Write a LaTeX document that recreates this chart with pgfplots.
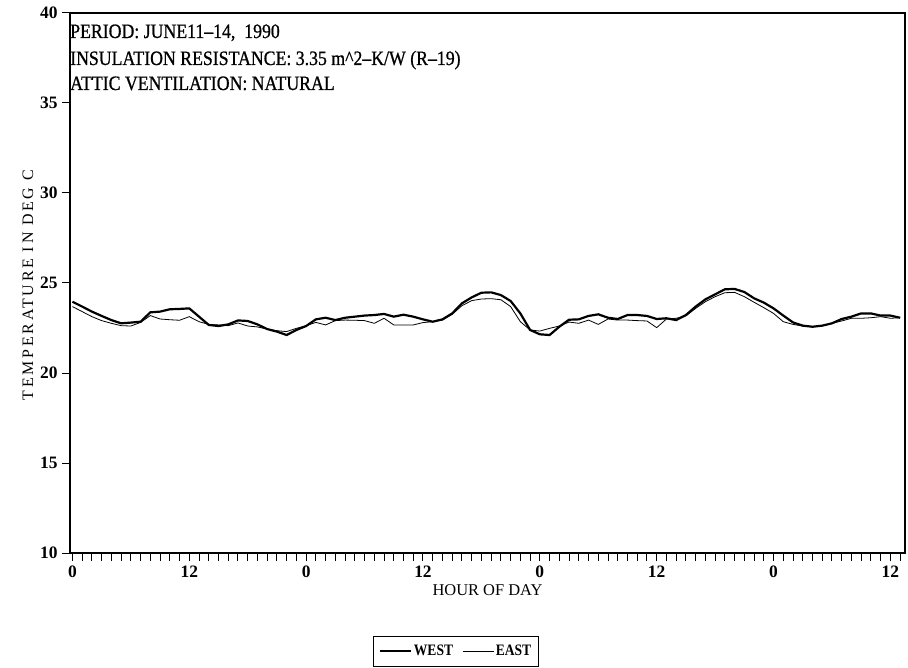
\documentclass[border=0pt]{standalone}
\usepackage{fontspec}
\setmainfont{Liberation Serif}
\newfontfamily\condserif[FakeStretch=0.87,FakeBold=0.8]{Liberation Serif}
\newfontfamily\legserif[FakeStretch=0.85]{Liberation Serif}
\newfontfamily\spacedserif[LetterSpace=17]{Liberation Serif}
\usepackage{pgfplots}
\pgfplotsset{compat=1.18}
\begin{document}
\begin{tikzpicture}
\path[use as bounding box] (-70bp,-115bp) rectangle (838bp,553bp);
\begin{axis}[
 scale only axis, width=835bp, height=540bp,
 xmin=-0.25, xmax=85.5, ymin=10, ymax=40,
 xtick={0,12,...,84}, xticklabels={0,12,0,12,0,12,0,12},
 minor xtick={0,...,85},
 ytick={10,15,...,40},
 tick align=outside, xtick pos=bottom, ytick pos=left,
 major tick length=8bp, minor tick length=8bp,
 every tick/.style={black, line width=1pt},
 axis line style={line width=1.2pt},
 /pgf/number format/assume math mode=true,
 ticklabel style={font=\fontsize{17.5}{17.5}\selectfont\bfseries},
 x tick label style={yshift=-1.5bp},
 y tick label style={xshift=-1bp},
 xlabel={HOUR OF DAY}, ylabel={TEMPERATURE IN DEG C},
 x label style={font=\fontsize{16.5}{16.5}\selectfont, at={(axis description cs:0.5,-0.0796)}, anchor=base},
 y label style={font=\fontsize{16}{16}\spacedserif, at={(axis description cs:-0.0503,0.496)}, anchor=center},
 legend style={at={(axis description cs:0.4623,-0.1815)}, anchor=center, draw=black, line width=0.8pt,
   font=\fontsize{16}{16}\legserif\bfseries, inner xsep=5bp, inner ysep=7bp,
   /tikz/every even column/.append style={column sep=7bp}},
 legend columns=2,
 legend image code/.code={\draw[#1] (0bp,0bp) -- (31bp,0bp);},
]
\addplot[black, line width=2.2pt] coordinates {
(0,23.96)(1,23.69)(2,23.41)(3,23.17)(4,22.94)(5,22.76)(6,22.80)(7,22.85)(8,23.37)(9,23.41)
(10,23.54)(11,23.56)(12,23.59)(13,23.13)(14,22.67)(15,22.61)(16,22.70)(17,22.92)(18,22.89)(19,22.70)
(20,22.44)(21,22.30)(22,22.11)(23,22.39)(24,22.61)(25,22.98)(26,23.07)(27,22.94)(28,23.07)(29,23.13)
(30,23.19)(31,23.22)(32,23.28)(33,23.13)(34,23.24)(35,23.13)(36,22.98)(37,22.85)(38,22.98)(39,23.31)
(40,23.87)(41,24.20)(42,24.46)(43,24.48)(44,24.33)(45,24.00)(46,23.31)(47,22.39)(48,22.15)(49,22.11)
(50,22.57)(51,22.96)(52,22.98)(53,23.17)(54,23.26)(55,23.07)(56,23.00)(57,23.22)(58,23.22)(59,23.17)
(60,23.00)(61,23.04)(62,22.94)(63,23.22)(64,23.69)(65,24.09)(66,24.37)(67,24.65)(68,24.67)(69,24.50)
(70,24.15)(71,23.91)(72,23.59)(73,23.19)(74,22.81)(75,22.63)(76,22.57)(77,22.63)(78,22.76)(79,23.00)
(80,23.13)(81,23.31)(82,23.31)(83,23.19)(84,23.19)(85,23.07)
};
\addlegendentry{WEST}
\addplot[black, line width=0.8pt] coordinates {
(0,23.69)(1,23.41)(2,23.13)(3,22.91)(4,22.76)(5,22.63)(6,22.61)(7,22.81)(8,23.19)(9,23.00)
(10,22.96)(11,22.93)(12,23.13)(13,22.85)(14,22.70)(15,22.67)(16,22.63)(17,22.78)(18,22.61)(19,22.56)
(20,22.44)(21,22.35)(22,22.30)(23,22.48)(24,22.63)(25,22.81)(26,22.67)(27,22.91)(28,22.94)(29,22.93)
(30,22.91)(31,22.76)(32,23.04)(33,22.67)(34,22.67)(35,22.67)(36,22.80)(37,22.85)(38,22.94)(39,23.26)
(40,23.74)(41,24.02)(42,24.11)(43,24.13)(44,24.07)(45,23.69)(46,22.85)(47,22.39)(48,22.33)(49,22.48)
(50,22.61)(51,22.83)(52,22.76)(53,22.94)(54,22.70)(55,23.00)(56,22.94)(57,22.94)(58,22.91)(59,22.89)
(60,22.52)(61,23.00)(62,23.04)(63,23.17)(64,23.59)(65,23.96)(66,24.24)(67,24.46)(68,24.48)(69,24.24)
(70,23.93)(71,23.63)(72,23.31)(73,22.85)(74,22.70)(75,22.61)(76,22.57)(77,22.63)(78,22.76)(79,22.89)
(80,23.04)(81,23.04)(82,23.07)(83,23.13)(84,23.04)(85,23.07)
};
\addlegendentry{EAST}
\node[anchor=base west, inner sep=0pt, font=\fontsize{20.5}{20.5}\condserif] at (axis description cs:0.0,0.9537) {PERIOD: JUNE11–14,\ \ 1990};
\node[anchor=base west, inner sep=0pt, font=\fontsize{20.5}{20.5}\condserif] at (axis description cs:0.0,0.9037) {INSULATION RESISTANCE: 3.35 m\textasciicircum 2–K/W (R–19)};
\node[anchor=base west, inner sep=0pt, font=\fontsize{20.5}{20.5}\condserif] at (axis description cs:0.0,0.8574) {ATTIC VENTILATION: NATURAL};
\end{axis}
\end{tikzpicture}
\end{document}
